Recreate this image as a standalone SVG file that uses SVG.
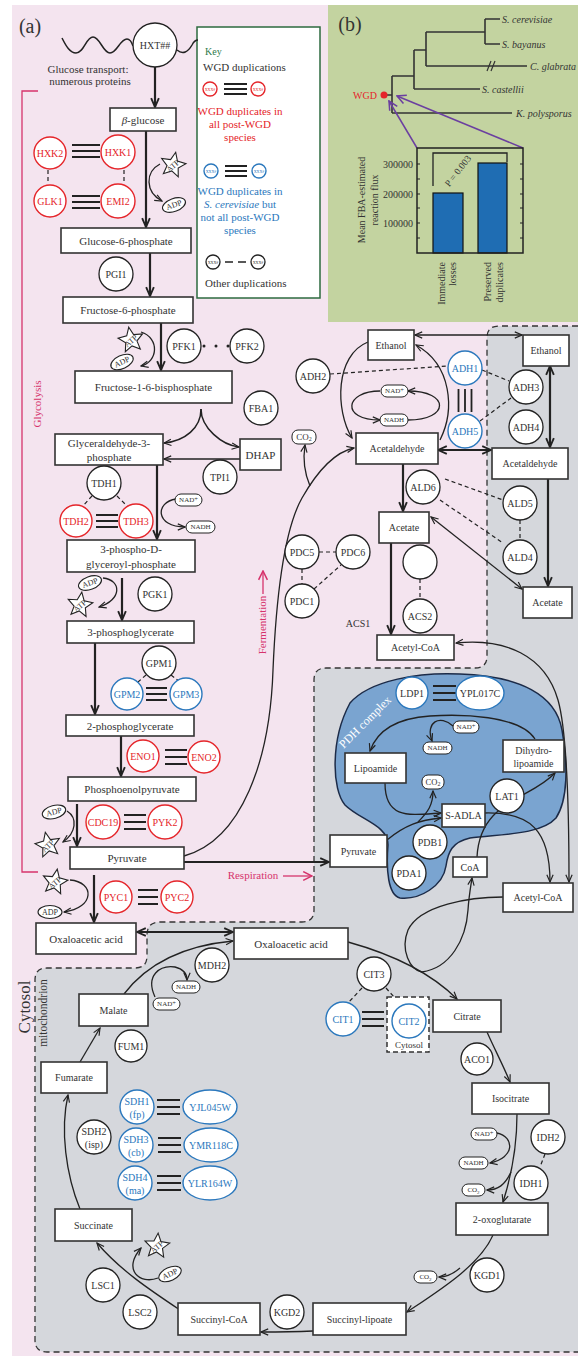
<svg xmlns="http://www.w3.org/2000/svg" width="578" height="1358" viewBox="0 0 578 1358">
<defs>
<style>
text{font-family:"Liberation Serif","DejaVu Serif",serif;fill:#333;text-anchor:middle;dominant-baseline:central;font-size:10px}
.g{font-size:11px}
.b{fill:#fff;stroke:#333;stroke-width:1.6}
.k{fill:#fff;stroke:#222;stroke-width:1.3}
.r{fill:#fff;stroke:#e5252a;stroke-width:1.4}
.u{fill:#fff;stroke:#2b78bd;stroke-width:1.4}
.tr{fill:#e5252a}
.tu{fill:#2b78bd}
.l{fill:none;stroke:#222;stroke-width:1.3}
.L{fill:none;stroke:#222;stroke-width:2.2}
.d{fill:none;stroke:#222;stroke-width:1.2;stroke-dasharray:4 3}
.tl{fill:none;stroke:#222;stroke-width:1.8}
.m{marker-end:url(#ah)}
.mm{marker-start:url(#ah);marker-end:url(#ah)}
.M{marker-end:url(#aH)}
.MM{marker-start:url(#aH);marker-end:url(#aH)}
.pill{fill:#fff;stroke:#222;stroke-width:1}
.ps{font-size:7px}
.sp{font-size:6.5px}
.it{font-style:italic}
.pk{fill:#d6336c}
</style>
<marker id="ah" viewBox="0 0 10 10" refX="9" refY="5" markerWidth="9" markerHeight="9" markerUnits="userSpaceOnUse" orient="auto-start-reverse"><path d="M1,1.5 L9,5 L1,8.5" fill="none" stroke="#222" stroke-width="1.3"/></marker>
<marker id="aH" viewBox="0 0 10 10" refX="9" refY="5" markerWidth="11" markerHeight="11" markerUnits="userSpaceOnUse" orient="auto-start-reverse"><path d="M1,1.5 L9,5 L1,8.5" fill="none" stroke="#222" stroke-width="1.7"/></marker>
<marker id="ap" viewBox="0 0 10 10" refX="9" refY="5" markerWidth="11" markerHeight="11" markerUnits="userSpaceOnUse" orient="auto"><path d="M1,1 L9,5 L1,9" fill="none" stroke="#d6336c" stroke-width="1.4"/></marker>
<marker id="av" viewBox="0 0 10 10" refX="9" refY="5" markerWidth="11" markerHeight="11" markerUnits="userSpaceOnUse" orient="auto"><path d="M1,1 L9,5 L1,9" fill="none" stroke="#6b3fa0" stroke-width="1.4"/></marker>
<polygon id="star" points="0,-13 3.5,-4.8 12.4,-4 5.7,1.9 7.6,10.5 0,6 -7.6,10.5 -5.7,1.9 -12.4,-4 -3.5,-4.8" fill="#fff" stroke="#222" stroke-width="1.1"/>
</defs>

<rect x="12" y="5" width="566" height="1351" fill="#f4e4ef"/>
<path id="mito-region" d="M578 326 H499 Q487 326 487 338 V656 Q487 668 475 668 H326 Q314 668 314 680 V910 Q314 922 302 922 H160 Q147 922 147 935 V956 Q147 968 135 968 H47 Q35 968 35 980 V1340 Q35 1352 47 1352 H578" fill="#d5d7dc" stroke="#333" stroke-width="1.3" stroke-dasharray="6 4"/>
<path id="pdh-blob" d="M350 703 C370 680 420 672 460 674 C520 676 556 695 562 730 C568 765 568 800 556 818 C540 836 495 834 470 838 C452 842 448 852 446 866 C443 886 420 900 400 898 C388 895 386 870 388 845 C388 825 360 820 345 805 C332 790 330 740 350 703 Z" fill="#7aa4d0" stroke="#1c2b48" stroke-width="1.5"/>
<text transform="translate(365 722) rotate(-45)" style="font-size:12px;fill:#fff">PDH complex</text>

<rect x="328" y="5" width="250" height="317" fill="#c3d3a0"/>

<text x="30" y="26" style="font-size:20px">(a)</text>

<!-- Key -->
<g id="key">
<rect x="197" y="27" width="123" height="271" fill="#fff" stroke="#2d6a3f" stroke-width="1.5"/>
<text x="205" y="51" style="text-anchor:start;fill:#2d7a4a">Key</text>
<text x="203" y="67" style="text-anchor:start;font-size:11px">WGD duplications</text>
<circle cx="210" cy="89" r="7" class="r"/><circle cx="258" cy="89" r="7" class="r"/>
<text x="210" y="89" class="tr" style="font-size:4px">XXX#</text><text x="258" y="89" class="tr" style="font-size:4px">XXX#</text>
<path d="M224 84 H247 M224 89 H247 M224 94 H247" class="tl"/>
<text x="240" y="111" class="tr" style="font-size:11px">WGD duplicates in</text>
<text x="240" y="124" class="tr" style="font-size:11px">all post-WGD</text>
<text x="240" y="137" class="tr" style="font-size:11px">species</text>
<circle cx="211" cy="171" r="7" class="u"/><circle cx="259" cy="171" r="7" class="u"/>
<text x="211" y="171" class="tu" style="font-size:4px">XXX#</text><text x="259" y="171" class="tu" style="font-size:4px">XXX#</text>
<path d="M225 166 H247 M225 171 H247 M225 176 H247" class="tl"/>
<text x="240" y="191" class="tu" style="font-size:11px">WGD duplicates in</text>
<text x="240" y="204" class="tu" style="font-size:11px"><tspan class="it">S. cerevisiae</tspan> but</text>
<text x="240" y="217" class="tu" style="font-size:11px">not all post-WGD</text>
<text x="240" y="230" class="tu" style="font-size:11px">species</text>
<circle cx="213" cy="262" r="7" class="k"/><circle cx="258" cy="262" r="7" class="k"/>
<text x="213" y="262" style="font-size:4px">XXX#</text><text x="258" y="262" style="font-size:4px">XXX#</text>
<path d="M225 262 H250" class="d" style="stroke-dasharray:8 5;stroke-width:1.5"/>
<text x="205" y="283" style="text-anchor:start;font-size:11px">Other duplications</text>
</g>

<!-- panel b -->
<g id="panel-b">
<text x="350" y="24" style="font-size:20px">(b)</text>
<path d="M485 19 H500 M485 44 H500 M485 19 V44 M426 32 H485 M426 32 V66 M426 66 H527 M414 50 H426 M414 50 V89 M414 89 H480 M392 76 H414 M392 76 V113 M392 113 H512 M384 95 H392" fill="none" stroke="#333" stroke-width="1.6"/>
<path d="M487 71 L491 61 M491 71 L495 61" stroke="#333" stroke-width="1.2"/>
<text x="502" y="19" class="it" style="text-anchor:start">S. cerevisiae</text>
<text x="502" y="44" class="it" style="text-anchor:start">S. bayanus</text>
<text x="530" y="66" class="it" style="text-anchor:start">C. glabrata</text>
<text x="482" y="89" class="it" style="text-anchor:start">S. castellii</text>
<text x="516" y="113" class="it" style="text-anchor:start">K. polysporus</text>
<circle cx="384" cy="95" r="3.5" fill="#e5252a"/>
<text x="377" y="95" class="tr" style="text-anchor:end">WGD</text>
<path d="M417 148 L389 101" stroke="#6b3fa0" stroke-width="1.5" marker-end="url(#av)"/>
<path d="M523 148 L397 96" stroke="#6b3fa0" stroke-width="1.5" marker-end="url(#av)"/>
<rect x="433" y="193" width="30" height="60" fill="#1f6db3" stroke="#111" stroke-width="1.2"/>
<rect x="478" y="163" width="29" height="90" fill="#1f6db3" stroke="#111" stroke-width="1.2"/>
<rect x="417" y="148" width="106" height="105" fill="none" stroke="#222" stroke-width="1.5"/>
<path d="M417 164 h3 M417 179 h3 M417 194 h3 M417 208 h3 M417 223 h3 M417 238 h3 M523 164 h-3 M523 179 h-3 M523 194 h-3 M523 208 h-3 M523 223 h-3 M523 238 h-3" stroke="#222" stroke-width="1.2"/>
<text x="413" y="164" style="text-anchor:end">300000</text>
<text x="413" y="194" style="text-anchor:end">200000</text>
<text x="413" y="223" style="text-anchor:end">100000</text>
<path d="M433 186 V153 H507 V162" fill="none" stroke="#222" stroke-width="1.3"/>
<text transform="translate(458 171) rotate(-52)" style="font-size:9.5px">P = 0.003</text>
<text transform="translate(361 200) rotate(-90)">Mean FBA-estimated</text>
<text transform="translate(374 200) rotate(-90)">reaction flux</text>
<text transform="translate(441 262) rotate(-90)" style="text-anchor:end">Immediate</text>
<text transform="translate(452 262) rotate(-90)" style="text-anchor:end">losses</text>
<text transform="translate(487 262) rotate(-90)" style="text-anchor:end">Preserved</text>
<text transform="translate(499 262) rotate(-90)" style="text-anchor:end">duplicates</text>
</g>

<!-- labels -->
<path d="M38 91 H22 V872 H38" fill="none" stroke="#d6336c" stroke-width="1.3"/>
<text transform="translate(37 404) rotate(-90)" class="pk" style="font-size:11px">Glycolysis</text>
<text transform="translate(262 625) rotate(-90)" class="pk" style="font-size:11px">Fermentation</text>
<path d="M263 594 V571" stroke="#d6336c" stroke-width="1.3" marker-end="url(#ap)"/>
<text x="253" y="875" class="pk" style="font-size:11px">Respiration</text>
<path d="M283 876 H312" stroke="#d6336c" stroke-width="1.3" marker-end="url(#ap)"/>
<text transform="translate(24 1007) rotate(-90)" style="font-size:17px">Cytosol</text>
<text transform="translate(43 1013) rotate(-90)" style="font-size:11.5px">mitochondrion</text>
<text x="88" y="69" style="font-size:11px">Glucose transport:</text>
<text x="90" y="81" style="font-size:11px">numerous proteins</text>
<text x="358" y="623">ACS1</text>

<!-- connectors -->
<g id="connectors">
<path d="M62 38 C66 46 70 53 76 53 C84 53 86 37 93 37 C100 37 103 53 110 53 C117 53 120 39 127 39 C130 39 132 43 133 46" class="l" style="stroke-width:1.5"/>
<path d="M177 50 C183 55 188 52 192 45 C194 41 196 40 198 40" class="l" style="stroke-width:1.5"/>
<path d="M155 67 V107" class="L M"/>
<path d="M146 131 V227" class="L M"/>
<path d="M150 253 V296" class="L M"/>
<path d="M161 323 V370" class="L M"/>
<path d="M201 409 C201 428 185 441 164 443" class="l m" style="stroke-width:1.5"/>
<path d="M201 409 C201 428 222 445 239 447" class="l m" style="stroke-width:1.5"/>
<path d="M240 459 H164" class="l m" style="stroke-width:1.5"/>
<path d="M157 465 V539" class="L M"/>
<path d="M122 578 V620" class="L M"/>
<path d="M95 643 V714" class="L M"/>
<path d="M121 736 V776" class="L M"/>
<path d="M77 804 V846" class="L M"/>
<path d="M94 875 V922" class="L M"/>
<path d="M137 932 H233" class="L MM"/>
<path d="M184 862 H329" class="L M"/>
<!-- cofactor loops -->
<path d="M160 164 C145 172 145 192 162 201" class="l m"/>
<path d="M141 332 C160 338 158 362 141 366" class="l m"/>
<path d="M176 499 C155 502 155 527 185 527" class="l m"/>
<path d="M103 578 C122 580 122 600 99 607" class="l m"/>
<path d="M67 811 C78 818 76 833 63 842" class="l m"/>
<path d="M70 880 C95 882 95 908 64 912" class="l m"/>
<!-- fermentation -->
<path d="M184 856 C242 840 270 760 273 670 C276 600 284 530 302 498 C318 470 335 452 354 448" class="l m"/>
<path d="M310 486 C304 472 303 458 305 445" class="l m"/>
<path d="M368 342 C335 355 335 410 352 438" class="l m"/>
<path d="M440 440 C455 410 452 365 416 345" class="l m"/>
<path d="M380 391 C345 391 340 420 380 420" class="l m"/>
<path d="M408 420 C450 420 450 391 408 391" class="l m"/>
<path d="M415 335 H522" class="l mm" style="stroke-width:1.5"/>
<path d="M438 450 H491" class="L MM"/>
<path d="M550 366 V447" class="L MM"/>
<path d="M548 479 V586" class="L M"/>
<path d="M403 464 V511" class="L M"/>
<path d="M391 543 V634" class="L M"/>
<path d="M431 517 L522 589" class="l mm"/>
<path d="M456 643 C505 638 545 655 558 700 C568 735 569 820 569 882" class="l mm"/>
<!-- dashed gene links -->
<path d="M48 170 V184 M124 170 V184" class="d"/>
<path d="M92 496 L83 506 M117 496 L128 507" class="d"/>
<path d="M146 675 L138 682 M171 675 L180 682" class="d"/>
<path d="M330 374 L448 366 M482 370 L509 381 M480 421 L511 398" class="d"/>
<path d="M445 479 L503 500 M440 500 L503 543 M520 520 V540" class="d"/>
<path d="M319 552 H336 M302 569 V584 M314 589 L341 565" class="d"/>
<path d="M420 579 V599" class="d"/>
<path d="M362 988 L348 1003 M386 988 L394 997" class="d"/>
<path d="M545 1154 L540 1167" class="d"/>
<circle cx="204" cy="346" r="1.5" fill="#222"/><circle cx="216" cy="346" r="1.5" fill="#222"/><circle cx="228" cy="346" r="1.5" fill="#222"/>
<!-- triple lines -->
<path d="M72 145 H100 M72 151 H100 M72 157 H100" class="tl"/>
<path d="M72 196 H100 M72 202 H100 M72 208 H100" class="tl"/>
<path d="M96 515 H118 M96 521 H118 M96 527 H118" class="tl"/>
<path d="M146 688 H167 M146 694 H167 M146 700 H167" class="tl"/>
<path d="M165 750 H187 M165 757 H187 M165 764 H187" class="tl"/>
<path d="M124 815 H146 M124 822 H146 M124 829 H146" class="tl"/>
<path d="M138 890 H158 M138 897 H158 M138 904 H158" class="tl"/>
<path d="M458.5 389 V412 M465 389 V412 M471.5 389 V412" class="tl"/>
<path d="M433 686 H456 M433 693 H456 M433 700 H456" class="tl"/>
<path d="M362 1012 H384 M362 1019 H384 M362 1026 H384" class="tl"/>
<path d="M157 1100 H180 M157 1107 H180 M157 1114 H180" class="tl"/>
<path d="M158 1138 H181 M158 1145 H181 M158 1152 H181" class="tl"/>
<path d="M157 1176 H181 M157 1183 H181 M157 1190 H181" class="tl"/>
<!-- PDH -->
<path d="M535 739 C520 715 460 714 430 716 C400 718 378 728 370 751" class="l m"/>
<path d="M453 726 C440 714 425 722 432 741" class="l m"/>
<path d="M385 783 C385 820 410 815 441 813" class="l m"/>
<path d="M387 840 C405 825 420 820 441 818" class="l m"/>
<path d="M418 822 C428 812 433 805 433 791" class="l m"/>
<path d="M485 813 C530 812 550 830 550 882" class="l m"/>
<path d="M477 857 C480 800 530 800 555 773" class="l m"/>
<!-- TCA -->
<path d="M503 897 C470 897 420 905 408 930 C400 950 410 970 422 972" class="l"/>
<path d="M422 972 C450 968 466 940 468 910 C469 895 471 885 472 878" class="l m"/>
<path d="M348 942 Q420 962 457 999" class="l m"/>
<path d="M487 1032 C495 1050 503 1065 510 1082" class="l m"/>
<path d="M517 1114 C517 1150 510 1180 503 1202" class="l m"/>
<path d="M497 1133 C515 1137 515 1158 490 1163" class="l m"/>
<path d="M511 1172 C505 1185 498 1190 487 1190" class="l m"/>
<path d="M493 1235 C480 1265 440 1290 407 1312" class="l m"/>
<path d="M460 1268 C452 1275 446 1277 439 1277" class="l m"/>
<path d="M313 1331 C290 1332 275 1332 261 1332" class="l m"/>
<path d="M180 1310 C150 1290 120 1270 97 1243" class="l m"/>
<path d="M158 1278 C140 1285 122 1270 141 1248" class="l m"/>
<path d="M80 1209 C66 1175 60 1130 68 1095" class="l m"/>
<path d="M80 1062 L100 1028" class="l m"/>
<path d="M124 994 C150 960 190 945 233 941" class="l m"/>
<path d="M155 997 C145 975 160 965 175 967 C183 969 187 973 187 980" class="l m"/>
</g>

<!-- boxes -->
<g id="n-bglucose"><rect x="110" y="108" width="66" height="23" class="b"/><text x="143" y="119.5" class="g"><tspan class="it">β</tspan>-glucose</text></g>
<g id="n-g6p"><rect x="61" y="228" width="130" height="25" class="b"/><text x="126" y="240.5" class="g">Glucose-6-phosphate</text></g>
<g id="n-f6p"><rect x="63" y="297" width="130" height="26" class="b"/><text x="128" y="310" class="g">Fructose-6-phosphate</text></g>
<g id="n-f16bp"><rect x="75" y="371" width="157" height="32" class="b"/><text x="153.5" y="387" class="g">Fructose-1-6-bisphosphate</text></g>
<g id="n-g3p"><rect x="55" y="434" width="108" height="31" class="b"/><text x="109" y="443" class="g">Glyceraldehyde-3-</text><text x="109" y="457" class="g">phosphate</text></g>
<g id="n-dhap"><rect x="240" y="439" width="41" height="31" class="b"/><text x="260.5" y="455" class="g">DHAP</text></g>
<g id="n-bpg"><rect x="67" y="540" width="128" height="32" class="b"/><text x="131" y="549" class="g">3-phospho-D-</text><text x="131" y="564" class="g">glyceroyl-phosphate</text></g>
<g id="n-3pg"><rect x="67" y="621" width="127" height="22" class="b"/><text x="130.5" y="632" class="g">3-phosphoglycerate</text></g>
<g id="n-2pg"><rect x="66" y="715" width="128" height="21" class="b"/><text x="130" y="725.5" class="g">2-phosphoglycerate</text></g>
<g id="n-pep"><rect x="68" y="777" width="128" height="24" class="b"/><text x="132" y="789" class="g">Phosphoenolpyruvate</text></g>
<g id="n-pyr"><rect x="70" y="847" width="114" height="22" class="b"/><text x="127" y="858" class="g">Pyruvate</text></g>
<g id="n-oaa-c"><rect x="36" y="923" width="100" height="31" class="b"/><text x="86" y="938.5" class="g">Oxaloacetic acid</text></g>
<g id="n-eth-c"><rect x="368" y="330" width="46" height="30" class="b"/><text x="391" y="345">Ethanol</text></g>
<g id="n-ald-c"><rect x="356" y="433" width="82" height="31" class="b"/><text x="397" y="448.5">Acetaldehyde</text></g>
<g id="n-ace-c"><rect x="379" y="512" width="50" height="31" class="b"/><text x="404" y="527.5">Acetate</text></g>
<g id="n-acoa-c"><rect x="377" y="635" width="77" height="25" class="b"/><text x="415.5" y="647.5">Acetyl-CoA</text></g>
<g id="n-eth-m"><rect x="523" y="335" width="46" height="31" class="b"/><text x="546" y="350.5">Ethanol</text></g>
<g id="n-ald-m"><rect x="492" y="448" width="76" height="31" class="b"/><text x="530" y="463.5">Acetaldehyde</text></g>
<g id="n-ace-m"><rect x="523" y="587" width="49" height="31" class="b"/><text x="547.5" y="602.5">Acetate</text></g>
<g id="n-pyr-m"><rect x="330" y="835" width="57" height="32" class="b"/><text x="358.5" y="851">Pyruvate</text></g>
<g id="n-lipo"><rect x="345" y="753" width="61" height="30" class="b"/><text x="375.5" y="768">Lipoamide</text></g>
<g id="n-dhlipo"><rect x="503" y="740" width="61" height="32" class="b"/><text x="533.5" y="750">Dihydro-</text><text x="533.5" y="763">lipoamide</text></g>
<g id="n-sadla"><rect x="442" y="804" width="43" height="23" class="b"/><text x="463.5" y="815.5">S-ADLA</text></g>
<g id="n-coa"><rect x="453" y="857" width="34" height="20" class="b"/><text x="470" y="867">CoA</text></g>
<g id="n-acoa-m"><rect x="503" y="883" width="70" height="29" class="b"/><text x="538" y="897.5">Acetyl-CoA</text></g>
<g id="n-oaa-m"><rect x="234" y="928" width="114" height="31" class="b"/><text x="291" y="943.5" class="g">Oxaloacetic acid</text></g>
<g id="n-cit"><rect x="433" y="1000" width="68" height="32" class="b"/><text x="467" y="1016">Citrate</text></g>
<g id="n-icit"><rect x="472" y="1083" width="77" height="31" class="b"/><text x="510.5" y="1098.5">Isocitrate</text></g>
<g id="n-2og"><rect x="456" y="1203" width="92" height="32" class="b"/><text x="502" y="1219">2-oxoglutarate</text></g>
<g id="n-slip"><rect x="313" y="1303" width="93" height="32" class="b"/><text x="359.5" y="1319">Succinyl-lipoate</text></g>
<g id="n-scoa"><rect x="178" y="1303" width="82" height="32" class="b"/><text x="219" y="1319">Succinyl-CoA</text></g>
<g id="n-succ"><rect x="55" y="1209" width="77" height="32" class="b"/><text x="93.5" y="1225">Succinate</text></g>
<g id="n-fum"><rect x="41" y="1062" width="66" height="31" class="b"/><text x="74" y="1077.5">Fumarate</text></g>
<g id="n-mal"><rect x="79" y="994" width="69" height="32" class="b"/><text x="113.5" y="1010">Malate</text></g>

<!-- enzymes -->
<g id="e-hxt"><circle cx="155" cy="45" r="22" class="k"/><text x="155" y="45">HXT##</text></g>
<g id="e-hxk2"><circle cx="50" cy="153" r="16" class="r"/><text x="50" y="153" class="tr">HXK2</text></g>
<g id="e-hxk1"><circle cx="118" cy="152" r="17" class="r"/><text x="118" y="152" class="tr">HXK1</text></g>
<g id="e-glk1"><circle cx="50" cy="201" r="16" class="r"/><text x="50" y="201" class="tr">GLK1</text></g>
<g id="e-emi2"><circle cx="118" cy="201" r="17" class="r"/><text x="118" y="201" class="tr">EMI2</text></g>
<g id="e-pgi1"><circle cx="116" cy="274" r="17" class="k"/><text x="116" y="274">PGI1</text></g>
<g id="e-pfk1"><circle cx="184" cy="346" r="17" class="k"/><text x="184" y="346">PFK1</text></g>
<g id="e-pfk2"><circle cx="247" cy="346" r="17" class="k"/><text x="247" y="346">PFK2</text></g>
<g id="e-fba1"><circle cx="261" cy="408" r="17" class="k"/><text x="261" y="408">FBA1</text></g>
<g id="e-tpi1"><circle cx="220" cy="477" r="17" class="k"/><text x="220" y="477">TPI1</text></g>
<g id="e-tdh1"><circle cx="104" cy="483" r="17" class="k"/><text x="104" y="483">TDH1</text></g>
<g id="e-tdh2"><circle cx="76" cy="521" r="16" class="r"/><text x="76" y="521" class="tr">TDH2</text></g>
<g id="e-tdh3"><circle cx="136" cy="521" r="17" class="r"/><text x="136" y="521" class="tr">TDH3</text></g>
<g id="e-pgk1"><circle cx="155" cy="594" r="17" class="k"/><text x="155" y="594">PGK1</text></g>
<g id="e-gpm1"><circle cx="159" cy="663" r="17" class="k"/><text x="159" y="663">GPM1</text></g>
<g id="e-gpm2"><circle cx="127" cy="694" r="16" class="u"/><text x="127" y="694" class="tu">GPM2</text></g>
<g id="e-gpm3"><circle cx="186" cy="694" r="16" class="u"/><text x="186" y="694" class="tu">GPM3</text></g>
<g id="e-eno1"><circle cx="143" cy="756" r="16" class="r"/><text x="143" y="756" class="tr">ENO1</text></g>
<g id="e-eno2"><circle cx="204" cy="757" r="16" class="r"/><text x="204" y="757" class="tr">ENO2</text></g>
<g id="e-cdc19"><circle cx="103" cy="822" r="17" class="r"/><text x="103" y="822" class="tr">CDC19</text></g>
<g id="e-pyk2"><circle cx="165" cy="822" r="17" class="r"/><text x="165" y="822" class="tr">PYK2</text></g>
<g id="e-pyc1"><circle cx="116" cy="897" r="16" class="r"/><text x="116" y="897" class="tr">PYC1</text></g>
<g id="e-pyc2"><circle cx="177" cy="897" r="16" class="r"/><text x="177" y="897" class="tr">PYC2</text></g>
<g id="e-adh2"><circle cx="313" cy="376" r="17" class="k"/><text x="313" y="376">ADH2</text></g>
<g id="e-adh1"><circle cx="465" cy="368" r="17" class="u"/><text x="465" y="368" class="tu">ADH1</text></g>
<g id="e-adh5"><circle cx="465" cy="431" r="17" class="u"/><text x="465" y="431" class="tu">ADH5</text></g>
<g id="e-adh3"><circle cx="526" cy="387" r="17" class="k"/><text x="526" y="387">ADH3</text></g>
<g id="e-adh4"><circle cx="526" cy="427" r="17" class="k"/><text x="526" y="427">ADH4</text></g>
<g id="e-ald6"><circle cx="423" cy="487" r="17" class="k"/><text x="423" y="487">ALD6</text></g>
<g id="e-ald5"><circle cx="520" cy="503" r="17" class="k"/><text x="520" y="503">ALD5</text></g>
<g id="e-ald4"><circle cx="520" cy="557" r="17" class="k"/><text x="520" y="557">ALD4</text></g>
<g id="e-pdc5"><circle cx="302" cy="552" r="17" class="k"/><text x="302" y="552">PDC5</text></g>
<g id="e-pdc6"><circle cx="353" cy="552" r="17" class="k"/><text x="353" y="552">PDC6</text></g>
<g id="e-pdc1"><circle cx="302" cy="601" r="17" class="k"/><text x="302" y="601">PDC1</text></g>
<g id="e-blank"><circle cx="420" cy="562" r="17" class="k"/></g>
<g id="e-acs2"><circle cx="420" cy="616" r="17" class="k"/><text x="420" y="616">ACS2</text></g>
<g id="e-ldp1"><circle cx="412" cy="693" r="16" class="u"/><text x="412" y="693">LDP1</text></g>
<g id="e-ypl017c"><ellipse cx="480" cy="693" rx="24" ry="17" class="u"/><text x="480" y="693">YPL017C</text></g>
<g id="e-lat1"><circle cx="507" cy="796" r="17" class="k"/><text x="507" y="796">LAT1</text></g>
<g id="e-pdb1"><circle cx="430" cy="842" r="17" class="k"/><text x="430" y="842">PDB1</text></g>
<g id="e-pda1"><circle cx="409" cy="873" r="17" class="k"/><text x="409" y="873">PDA1</text></g>
<g id="e-cit3"><circle cx="374" cy="974" r="17" class="k"/><text x="374" y="974">CIT3</text></g>
<g id="e-cit1"><circle cx="343" cy="1019" r="17" class="u"/><text x="343" y="1019" class="tu">CIT1</text></g>
<g id="e-cit2"><rect x="387" y="997" width="42" height="55" fill="#fff" stroke="#333" stroke-width="1.5" stroke-dasharray="5 3"/><circle cx="409" cy="1021" r="17" class="u"/><text x="409" y="1021" class="tu">CIT2</text><text x="409" y="1045" style="font-size:9px">Cytosol</text></g>
<g id="e-mdh2"><circle cx="212" cy="965" r="17" class="k"/><text x="212" y="965">MDH2</text></g>
<g id="e-fum1"><circle cx="131" cy="1046" r="16" class="k"/><text x="131" y="1046">FUM1</text></g>
<g id="e-sdh1"><circle cx="137" cy="1107" r="17" class="u"/><text x="137" y="1101" class="tu">SDH1</text><text x="137" y="1114" class="tu">(fp)</text></g>
<g id="e-yjl045w"><ellipse cx="210" cy="1107" rx="27" ry="17" class="u"/><text x="210" y="1107" class="tu">YJL045W</text></g>
<g id="e-sdh3"><circle cx="136" cy="1145" r="17" class="u"/><text x="136" y="1139" class="tu">SDH3</text><text x="136" y="1152" class="tu">(cb)</text></g>
<g id="e-ymr118c"><ellipse cx="211" cy="1145" rx="27" ry="17" class="u"/><text x="211" y="1145" class="tu">YMR118C</text></g>
<g id="e-sdh4"><circle cx="135" cy="1183" r="17" class="u"/><text x="135" y="1177" class="tu">SDH4</text><text x="135" y="1190" class="tu">(ma)</text></g>
<g id="e-ylr164w"><ellipse cx="210" cy="1183" rx="27" ry="17" class="u"/><text x="210" y="1183" class="tu">YLR164W</text></g>
<g id="e-sdh2"><circle cx="94" cy="1137" r="17" class="k"/><text x="94" y="1131">SDH2</text><text x="94" y="1144">(isp)</text></g>
<g id="e-aco1"><circle cx="477" cy="1059" r="16" class="k"/><text x="477" y="1059">ACO1</text></g>
<g id="e-idh2"><circle cx="548" cy="1137" r="17" class="k"/><text x="548" y="1137">IDH2</text></g>
<g id="e-idh1"><circle cx="531" cy="1183" r="17" class="k"/><text x="531" y="1183">IDH1</text></g>
<g id="e-kgd1"><circle cx="487" cy="1275" r="17" class="k"/><text x="487" y="1275">KGD1</text></g>
<g id="e-kgd2"><circle cx="287" cy="1312" r="17" class="k"/><text x="287" y="1312">KGD2</text></g>
<g id="e-lsc1"><circle cx="103" cy="1285" r="17" class="k"/><text x="103" y="1285">LSC1</text></g>
<g id="e-lsc2"><circle cx="140" cy="1312" r="17" class="k"/><text x="140" y="1312">LSC2</text></g>

<!-- cofactors -->
<g id="cof">
<rect x="175" y="494" width="27" height="12" rx="6" class="pill"/><text x="188.5" y="500" class="ps">NAD<tspan dy="-2.5" class="sp">+</tspan></text>
<rect x="186" y="521" width="29" height="12" rx="6" class="pill"/><text x="200.5" y="527" class="ps">NADH</text>
<rect x="381" y="385" width="27" height="12" rx="6" class="pill"/><text x="394.5" y="391" class="ps">NAD<tspan dy="-2.5" class="sp">+</tspan></text>
<rect x="380" y="414" width="28" height="12" rx="6" class="pill"/><text x="394" y="420" class="ps">NADH</text>
<rect x="453" y="721" width="26" height="12" rx="6" class="pill"/><text x="466" y="727" class="ps">NAD<tspan dy="-2.5" class="sp">+</tspan></text>
<rect x="423" y="742" width="29" height="12" rx="6" class="pill"/><text x="437.5" y="748" class="ps">NADH</text>
<rect x="422" y="775" width="22" height="14" rx="6" class="pill"/><text x="433" y="782" style="font-size:8.5px">CO<tspan dy="2" style="font-size:6px">2</tspan></text>
<rect x="292" y="430" width="24" height="14" rx="6" class="pill"/><text x="304" y="437" style="font-size:9px">CO<tspan dy="2" style="font-size:6px">2</tspan></text>
<rect x="172" y="981" width="28" height="12" rx="6" class="pill"/><text x="186" y="987" class="ps">NADH</text>
<rect x="153" y="998" width="27" height="12" rx="6" class="pill"/><text x="166.5" y="1004" class="ps">NAD<tspan dy="-2.5" class="sp">+</tspan></text>
<rect x="471" y="1128" width="26" height="12" rx="6" class="pill"/><text x="484" y="1134" class="ps">NAD<tspan dy="-2.5" class="sp">+</tspan></text>
<rect x="459" y="1157" width="29" height="12" rx="6" class="pill"/><text x="473.5" y="1163" class="ps">NADH</text>
<rect x="462" y="1184" width="23" height="12" rx="6" class="pill"/><text x="473.5" y="1190" class="ps">CO<tspan dy="2" style="font-size:5px">2</tspan></text>
<rect x="414" y="1271" width="23" height="12" rx="6" class="pill"/><text x="425.5" y="1277" class="ps">CO<tspan dy="2" style="font-size:5px">2</tspan></text>
</g>

<!-- ATP / ADP -->
<g id="atp-adp">
<use href="#star" transform="translate(173 165) rotate(12)"/><text transform="translate(173 166) rotate(-40)" style="font-size:8px">ATP</text>
<ellipse cx="174" cy="205" rx="12" ry="6.5" transform="rotate(-20 174 205)" class="k" style="stroke-width:1.1"/><text transform="translate(174 205) rotate(-20)" style="font-size:8px">ADP</text>
<use href="#star" transform="translate(131 340) rotate(-10)"/><text transform="translate(131 341) rotate(-40)" style="font-size:8px">ATP</text>
<ellipse cx="122" cy="362" rx="12" ry="6.5" transform="rotate(-25 122 362)" class="k" style="stroke-width:1.1"/><text transform="translate(122 362) rotate(-25)" style="font-size:8px">ADP</text>
<ellipse cx="90" cy="583" rx="12" ry="6.5" transform="rotate(-20 90 583)" class="k" style="stroke-width:1.1"/><text transform="translate(90 583) rotate(-20)" style="font-size:8px">ADP</text>
<use href="#star" transform="translate(80 605) rotate(8)"/><text transform="translate(80 606) rotate(-40)" style="font-size:8px">ATP</text>
<ellipse cx="54" cy="812" rx="12" ry="6.5" transform="rotate(-15 54 812)" class="k" style="stroke-width:1.1"/><text transform="translate(54 812) rotate(-15)" style="font-size:8px">ADP</text>
<use href="#star" transform="translate(48 845) rotate(-12)"/><text transform="translate(48 846) rotate(-45)" style="font-size:8px">ATP</text>
<use href="#star" transform="translate(55 882) rotate(10)"/><text transform="translate(55 883) rotate(-40)" style="font-size:8px">ATP</text>
<ellipse cx="50" cy="912" rx="12" ry="6.5" class="k" style="stroke-width:1.1"/><text x="50" y="912" style="font-size:8px">ADP</text>
<use href="#star" transform="translate(157 1246) rotate(5)"/><text transform="translate(157 1247) rotate(-40)" style="font-size:8px">ATP</text>
<ellipse cx="170" cy="1274" rx="12" ry="6.5" transform="rotate(-25 170 1274)" class="k" style="stroke-width:1.1"/><text transform="translate(170 1274) rotate(-25)" style="font-size:8px">ADP</text>
</g>
</svg>
